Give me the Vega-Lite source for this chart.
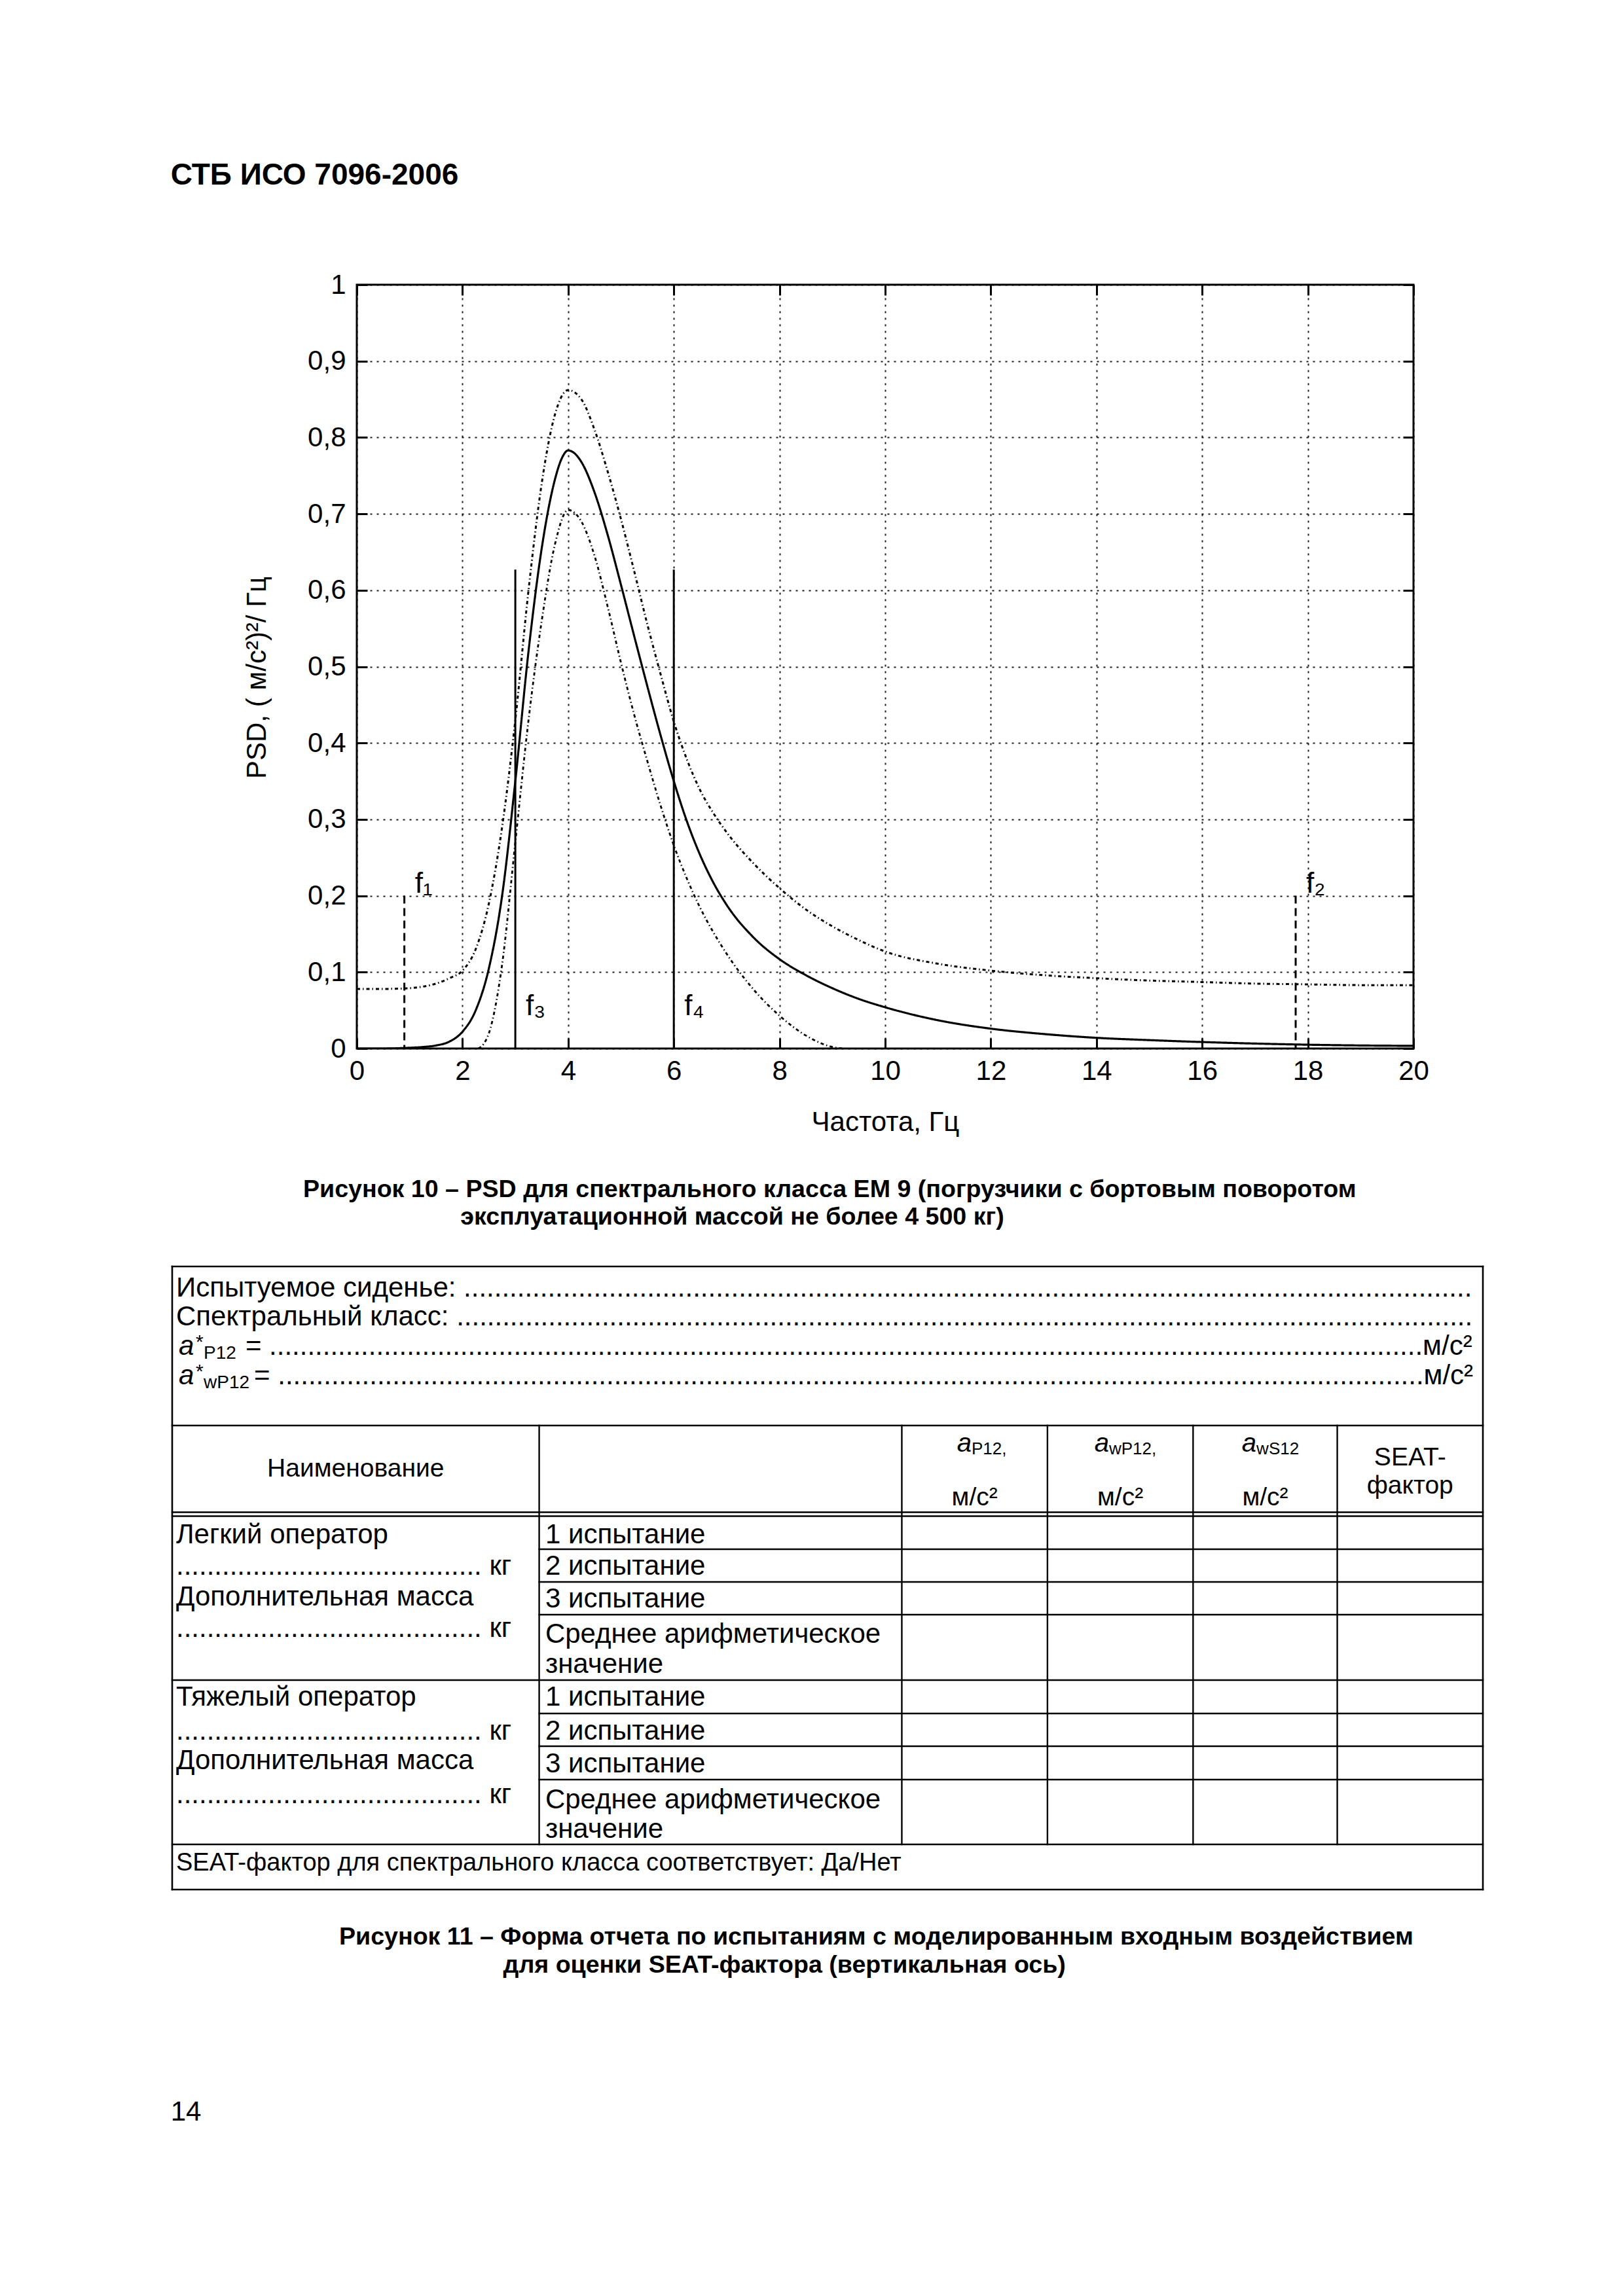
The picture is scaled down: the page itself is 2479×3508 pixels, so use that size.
{
  "$schema": "https://vega.github.io/schema/vega-lite/v6.json",
  "background": "white",
  "padding": {"left": 260, "top": 244, "right": 150, "bottom": 200},
  "title": {"text": "СТБ ИСО 7096-2006", "anchor": "start", "fontSize": 46, "fontWeight": "bold", "color": "black", "offset": 121},
  "datasets": {
    "psd": [
      {"curve": "nominal", "freq": 0, "psd": 0},
      {"curve": "nominal", "freq": 0.5, "psd": 0},
      {"curve": "nominal", "freq": 1, "psd": 0.001},
      {"curve": "nominal", "freq": 1.25, "psd": 0.002},
      {"curve": "nominal", "freq": 1.5, "psd": 0.004},
      {"curve": "nominal", "freq": 1.75, "psd": 0.009},
      {"curve": "nominal", "freq": 2, "psd": 0.022},
      {"curve": "nominal", "freq": 2.25, "psd": 0.05},
      {"curve": "nominal", "freq": 2.5, "psd": 0.105},
      {"curve": "nominal", "freq": 2.75, "psd": 0.2},
      {"curve": "nominal", "freq": 3, "psd": 0.35},
      {"curve": "nominal", "freq": 3.25, "psd": 0.52},
      {"curve": "nominal", "freq": 3.5, "psd": 0.655},
      {"curve": "nominal", "freq": 3.75, "psd": 0.745},
      {"curve": "nominal", "freq": 3.875, "psd": 0.772},
      {"curve": "nominal", "freq": 4, "psd": 0.783},
      {"curve": "nominal", "freq": 4.125, "psd": 0.779},
      {"curve": "nominal", "freq": 4.25, "psd": 0.768},
      {"curve": "nominal", "freq": 4.5, "psd": 0.728},
      {"curve": "nominal", "freq": 4.75, "psd": 0.672},
      {"curve": "nominal", "freq": 5, "psd": 0.607},
      {"curve": "nominal", "freq": 5.25, "psd": 0.54},
      {"curve": "nominal", "freq": 5.5, "psd": 0.474},
      {"curve": "nominal", "freq": 5.75, "psd": 0.41},
      {"curve": "nominal", "freq": 6, "psd": 0.35},
      {"curve": "nominal", "freq": 6.25, "psd": 0.297},
      {"curve": "nominal", "freq": 6.5, "psd": 0.253},
      {"curve": "nominal", "freq": 6.75, "psd": 0.217},
      {"curve": "nominal", "freq": 7, "psd": 0.188},
      {"curve": "nominal", "freq": 7.5, "psd": 0.146},
      {"curve": "nominal", "freq": 8, "psd": 0.117},
      {"curve": "nominal", "freq": 8.5, "psd": 0.096},
      {"curve": "nominal", "freq": 9, "psd": 0.079},
      {"curve": "nominal", "freq": 9.5, "psd": 0.065},
      {"curve": "nominal", "freq": 10, "psd": 0.054},
      {"curve": "nominal", "freq": 11, "psd": 0.037},
      {"curve": "nominal", "freq": 12, "psd": 0.026},
      {"curve": "nominal", "freq": 13, "psd": 0.019},
      {"curve": "nominal", "freq": 14, "psd": 0.014},
      {"curve": "nominal", "freq": 15, "psd": 0.011},
      {"curve": "nominal", "freq": 16, "psd": 0.0085},
      {"curve": "nominal", "freq": 17, "psd": 0.0065},
      {"curve": "nominal", "freq": 18, "psd": 0.005},
      {"curve": "nominal", "freq": 19, "psd": 0.004},
      {"curve": "nominal", "freq": 20, "psd": 0.0035},
      {"curve": "upper", "freq": 0, "psd": 0.078},
      {"curve": "upper", "freq": 0.5, "psd": 0.078},
      {"curve": "upper", "freq": 1, "psd": 0.079},
      {"curve": "upper", "freq": 1.25, "psd": 0.081},
      {"curve": "upper", "freq": 1.5, "psd": 0.085},
      {"curve": "upper", "freq": 1.75, "psd": 0.092},
      {"curve": "upper", "freq": 2, "psd": 0.102},
      {"curve": "upper", "freq": 2.25, "psd": 0.13},
      {"curve": "upper", "freq": 2.5, "psd": 0.19},
      {"curve": "upper", "freq": 2.75, "psd": 0.29},
      {"curve": "upper", "freq": 3, "psd": 0.43},
      {"curve": "upper", "freq": 3.25, "psd": 0.6},
      {"curve": "upper", "freq": 3.5, "psd": 0.74},
      {"curve": "upper", "freq": 3.75, "psd": 0.83},
      {"curve": "upper", "freq": 4, "psd": 0.862},
      {"curve": "upper", "freq": 4.25, "psd": 0.85},
      {"curve": "upper", "freq": 4.5, "psd": 0.81},
      {"curve": "upper", "freq": 4.75, "psd": 0.755},
      {"curve": "upper", "freq": 5, "psd": 0.693},
      {"curve": "upper", "freq": 5.25, "psd": 0.625},
      {"curve": "upper", "freq": 5.5, "psd": 0.555},
      {"curve": "upper", "freq": 5.75, "psd": 0.49},
      {"curve": "upper", "freq": 6, "psd": 0.428},
      {"curve": "upper", "freq": 6.25, "psd": 0.378},
      {"curve": "upper", "freq": 6.5, "psd": 0.338},
      {"curve": "upper", "freq": 6.75, "psd": 0.308},
      {"curve": "upper", "freq": 7, "psd": 0.283},
      {"curve": "upper", "freq": 7.5, "psd": 0.243},
      {"curve": "upper", "freq": 8, "psd": 0.21},
      {"curve": "upper", "freq": 8.5, "psd": 0.182},
      {"curve": "upper", "freq": 9, "psd": 0.16},
      {"curve": "upper", "freq": 9.5, "psd": 0.142},
      {"curve": "upper", "freq": 10, "psd": 0.127},
      {"curve": "upper", "freq": 11, "psd": 0.111},
      {"curve": "upper", "freq": 12, "psd": 0.102},
      {"curve": "upper", "freq": 13, "psd": 0.096},
      {"curve": "upper", "freq": 14, "psd": 0.092},
      {"curve": "upper", "freq": 15, "psd": 0.089},
      {"curve": "upper", "freq": 16, "psd": 0.087},
      {"curve": "upper", "freq": 17, "psd": 0.085},
      {"curve": "upper", "freq": 18, "psd": 0.084},
      {"curve": "upper", "freq": 19, "psd": 0.083},
      {"curve": "upper", "freq": 20, "psd": 0.083},
      {"curve": "lower", "freq": 2.3, "psd": 0},
      {"curve": "lower", "freq": 2.4, "psd": 0.006},
      {"curve": "lower", "freq": 2.5, "psd": 0.02},
      {"curve": "lower", "freq": 2.75, "psd": 0.11},
      {"curve": "lower", "freq": 3, "psd": 0.27},
      {"curve": "lower", "freq": 3.25, "psd": 0.43},
      {"curve": "lower", "freq": 3.5, "psd": 0.56},
      {"curve": "lower", "freq": 3.75, "psd": 0.66},
      {"curve": "lower", "freq": 4, "psd": 0.705},
      {"curve": "lower", "freq": 4.25, "psd": 0.69},
      {"curve": "lower", "freq": 4.5, "psd": 0.645},
      {"curve": "lower", "freq": 4.75, "psd": 0.578},
      {"curve": "lower", "freq": 5, "psd": 0.505},
      {"curve": "lower", "freq": 5.25, "psd": 0.437},
      {"curve": "lower", "freq": 5.5, "psd": 0.376},
      {"curve": "lower", "freq": 5.75, "psd": 0.318},
      {"curve": "lower", "freq": 6, "psd": 0.266},
      {"curve": "lower", "freq": 6.25, "psd": 0.222},
      {"curve": "lower", "freq": 6.5, "psd": 0.184},
      {"curve": "lower", "freq": 6.75, "psd": 0.152},
      {"curve": "lower", "freq": 7, "psd": 0.124},
      {"curve": "lower", "freq": 7.5, "psd": 0.078},
      {"curve": "lower", "freq": 8, "psd": 0.043},
      {"curve": "lower", "freq": 8.5, "psd": 0.017},
      {"curve": "lower", "freq": 9, "psd": 0.002},
      {"curve": "lower", "freq": 9.2, "psd": 0}
    ],
    "markers": [
      {"name": "f1", "freq": 0.9, "top": 0.2, "kind": "limit"},
      {"name": "f2", "freq": 17.77, "top": 0.2, "kind": "limit"},
      {"name": "f3", "freq": 3.0, "top": 0.627, "kind": "cutoff"},
      {"name": "f4", "freq": 6.0, "top": 0.627, "kind": "cutoff"}
    ],
    "markerLabels": [
      {"label": "f₁", "freq": 0.9, "psd": 0.215},
      {"label": "f₂", "freq": 17.77, "psd": 0.215},
      {"label": "f₃", "freq": 3.0, "psd": 0.055},
      {"label": "f₄", "freq": 6.0, "psd": 0.055}
    ],
    "tableRules": [
      {"x": 0, "x2": 9, "y": 0, "y2": 0, "weight": "outer"},
      {"x": 0, "x2": 9, "y": 4.86, "y2": 4.86, "weight": "outer"},
      {"x": 0, "x2": 9, "y": 7.51, "y2": 7.51, "weight": "inner"},
      {"x": 0, "x2": 9, "y": 7.63, "y2": 7.63, "weight": "inner"},
      {"x": 2.52, "x2": 9, "y": 8.64, "y2": 8.64, "weight": "inner"},
      {"x": 2.52, "x2": 9, "y": 9.64, "y2": 9.64, "weight": "inner"},
      {"x": 2.52, "x2": 9, "y": 10.64, "y2": 10.64, "weight": "inner"},
      {"x": 0, "x2": 9, "y": 12.64, "y2": 12.64, "weight": "inner"},
      {"x": 2.52, "x2": 9, "y": 13.66, "y2": 13.66, "weight": "inner"},
      {"x": 2.52, "x2": 9, "y": 14.66, "y2": 14.66, "weight": "inner"},
      {"x": 2.52, "x2": 9, "y": 15.68, "y2": 15.68, "weight": "inner"},
      {"x": 0, "x2": 9, "y": 17.66, "y2": 17.66, "weight": "inner"},
      {"x": 0, "x2": 9, "y": 19.04, "y2": 19.04, "weight": "outer"},
      {"x": 0, "x2": 0, "y": 0, "y2": 19.04, "weight": "outer"},
      {"x": 9, "x2": 9, "y": 0, "y2": 19.04, "weight": "outer"},
      {"x": 2.52, "x2": 2.52, "y": 4.86, "y2": 17.66, "weight": "inner"},
      {"x": 5.01, "x2": 5.01, "y": 4.86, "y2": 17.66, "weight": "inner"},
      {"x": 6.01, "x2": 6.01, "y": 4.86, "y2": 17.66, "weight": "inner"},
      {"x": 7.01, "x2": 7.01, "y": 4.86, "y2": 17.66, "weight": "inner"},
      {"x": 8.0, "x2": 8.0, "y": 4.86, "y2": 17.66, "weight": "inner"}
    ],
    "tableText": [
      {"role": "form", "x": 0.027, "y": 0.66, "text": "Испытуемое сиденье: ...................................................................................................................................."},
      {"role": "form", "x": 0.027, "y": 1.54, "text": "Спектральный класс: ....................................................................................................................................."},
      {"role": "formSym", "x": 0.045, "y": 2.44, "text": "a"},
      {"role": "formSup", "x": 0.162, "y": 2.44, "text": "*"},
      {"role": "formSub", "x": 0.216, "y": 2.44, "text": "P12"},
      {"role": "form", "x": 0.503, "y": 2.44, "text": "= .......................................................................................................................................................м/с²"},
      {"role": "formSym", "x": 0.045, "y": 3.34, "text": "a"},
      {"role": "formSup", "x": 0.162, "y": 3.34, "text": "*"},
      {"role": "formSub", "x": 0.216, "y": 3.34, "text": "wP12"},
      {"role": "form", "x": 0.562, "y": 3.34, "text": "= ......................................................................................................................................................м/с²"},
      {"role": "head", "x": 1.26, "y": 6.18, "text": "Наименование"},
      {"role": "headSym", "x": 5.489, "y": 5.42, "text": "a"},
      {"role": "headSub", "x": 5.489, "y": 5.42, "text": "P12,"},
      {"role": "headSym", "x": 6.433, "y": 5.42, "text": "a"},
      {"role": "headSub", "x": 6.433, "y": 5.42, "text": "wP12,"},
      {"role": "headSym", "x": 7.445, "y": 5.42, "text": "a"},
      {"role": "headSub", "x": 7.445, "y": 5.42, "text": "wS12"},
      {"role": "head", "x": 5.51, "y": 7.06, "text": "м/с²"},
      {"role": "head", "x": 6.51, "y": 7.06, "text": "м/с²"},
      {"role": "head", "x": 7.505, "y": 7.06, "text": "м/с²"},
      {"role": "head", "x": 8.5, "y": 5.84, "text": "SEAT-"},
      {"role": "head", "x": 8.5, "y": 6.7, "text": "фактор"},
      {"role": "body", "x": 0.027, "y": 8.2, "text": "Легкий оператор"},
      {"role": "body", "x": 0.027, "y": 9.16, "text": "........................................ кг"},
      {"role": "body", "x": 0.027, "y": 10.1, "text": "Дополнительная масса"},
      {"role": "body", "x": 0.027, "y": 11.06, "text": "........................................ кг"},
      {"role": "body", "x": 2.562, "y": 8.2, "text": "1 испытание"},
      {"role": "body", "x": 2.562, "y": 9.16, "text": "2 испытание"},
      {"role": "body", "x": 2.562, "y": 10.16, "text": "3 испытание"},
      {"role": "body", "x": 2.562, "y": 11.24, "text": "Среднее арифметическое"},
      {"role": "body", "x": 2.562, "y": 12.16, "text": "значение"},
      {"role": "body", "x": 0.027, "y": 13.16, "text": "Тяжелый оператор"},
      {"role": "body", "x": 0.027, "y": 14.2, "text": "........................................ кг"},
      {"role": "body", "x": 0.027, "y": 15.1, "text": "Дополнительная масса"},
      {"role": "body", "x": 0.027, "y": 16.14, "text": "........................................ кг"},
      {"role": "body", "x": 2.562, "y": 13.16, "text": "1 испытание"},
      {"role": "body", "x": 2.562, "y": 14.2, "text": "2 испытание"},
      {"role": "body", "x": 2.562, "y": 15.2, "text": "3 испытание"},
      {"role": "body", "x": 2.562, "y": 16.3, "text": "Среднее арифметическое"},
      {"role": "body", "x": 2.562, "y": 17.2, "text": "значение"},
      {"role": "foot", "x": 0.027, "y": 18.24, "text": "SEAT-фактор для спектрального класса соответствует: Да/Нет"}
    ]
  },
  "vconcat": [
    {
      "vconcat": [
        {
          "hconcat": [
            {
              "width": 107, "height": 10,
              "view": {"stroke": null},
              "data": {"values": [{"blank": ""}]},
              "mark": {"type": "text", "opacity": 0},
              "encoding": {"text": {"field": "blank"}}
            },
            {
              "width": 1614, "height": 1167,
              "view": {"stroke": "black", "strokeWidth": 3},
              "title": {
                "text": ["Рисунок 10 – PSD для спектрального класса ЕМ 9 (погрузчики с бортовым поворотом", "\u200b\u00a0\u00a0\u00a0\u00a0\u00a0\u00a0\u00a0\u00a0\u00a0\u00a0\u00a0\u00a0\u00a0\u00a0\u00a0\u00a0\u00a0\u00a0\u00a0\u00a0\u00a0\u00a0\u00a0эксплуатационной массой не более 4 500 кг)"],
                "orient": "bottom", "anchor": "start", "frame": "group", "align": "left", "dx": -82,
                "fontSize": 37.6, "fontWeight": "bold", "lineHeight": 42, "offset": 64, "color": "black"
              },
              "layer": [
                {
                  "data": {"name": "psd"},
                  "mark": {"type": "line", "color": "black", "interpolate": "monotone", "clip": true},
                  "encoding": {
                    "x": {
                      "field": "freq", "type": "quantitative",
                      "scale": {"domain": [0, 20], "nice": false, "zero": false},
                      "axis": {
                        "values": [0, 2, 4, 6, 8, 10, 12, 14, 16, 18, 20], "format": "d",
                        "title": "Частота, Гц",
                        "grid": true, "gridDash": [3, 7], "gridColor": "black", "gridWidth": 2, "gridOpacity": 0.9,
                        "domain": false, "ticks": true, "tickSize": -16, "tickWidth": 3, "tickColor": "black",
                        "labelFontSize": 42, "labelColor": "black", "labelPadding": 30, "labelFlush": false,
                        "titleFontSize": 42, "titleFontWeight": "normal", "titleColor": "black", "titlePadding": 37
                      }
                    },
                    "y": {
                      "field": "psd", "type": "quantitative",
                      "scale": {"domain": [0, 1], "nice": false, "zero": false},
                      "axis": {
                        "values": [0, 0.1, 0.2, 0.3, 0.4, 0.5, 0.6, 0.7, 0.8, 0.9, 1],
                        "labelExpr": "datum.value == 0 ? '0' : datum.value == 1 ? '1' : replace(format(datum.value, '.1f'), '.', ',')",
                        "title": "PSD, ( м/с²)²/ Гц",
                        "titleY": 600,
                        "grid": true, "gridDash": [3, 7], "gridColor": "black", "gridWidth": 2, "gridOpacity": 0.9,
                        "domain": false, "ticks": true, "tickSize": -16, "tickWidth": 3, "tickColor": "black",
                        "labelFontSize": 42, "labelColor": "black", "labelPadding": 33, "labelFlush": false,
                        "titleFontSize": 42, "titleFontWeight": "normal", "titleColor": "black", "titlePadding": 55
                      }
                    },
                    "strokeDash": {"field": "curve", "type": "nominal", "scale": {"domain": ["nominal", "upper", "lower"], "range": [[1, 0], [5, 4, 1.5, 4], [5, 4, 1.5, 4]]}, "legend": null},
                    "strokeWidth": {"field": "curve", "type": "nominal", "scale": {"domain": ["nominal", "upper", "lower"], "range": [3.2, 2.4, 2.4]}, "legend": null}
                  }
                },
                {
                  "data": {"name": "markers"},
                  "transform": [{"filter": "datum.kind == 'limit'"}],
                  "mark": {"type": "rule", "color": "black", "strokeWidth": 3, "strokeDash": [12, 7]},
                  "encoding": {
                    "x": {"field": "freq", "type": "quantitative", "axis": null},
                    "y": {"field": "top", "type": "quantitative", "axis": null},
                    "y2": {"datum": 0}
                  }
                },
                {
                  "data": {"name": "markers"},
                  "transform": [{"filter": "datum.kind == 'cutoff'"}],
                  "mark": {"type": "rule", "color": "black", "strokeWidth": 3},
                  "encoding": {
                    "x": {"field": "freq", "type": "quantitative", "axis": null},
                    "y": {"field": "top", "type": "quantitative", "axis": null},
                    "y2": {"datum": 0}
                  }
                },
                {
                  "data": {"name": "markerLabels"},
                  "mark": {"type": "text", "align": "left", "baseline": "middle", "dx": 16, "fontSize": 44, "color": "black"},
                  "encoding": {
                    "x": {"field": "freq", "type": "quantitative", "axis": {"orient": "top", "values": [0, 2, 4, 6, 8, 10, 12, 14, 16, 18, 20], "labels": false, "title": null, "grid": false, "domain": false, "tickSize": -16, "tickWidth": 3, "tickColor": "black"}},
                    "y": {"field": "psd", "type": "quantitative", "axis": {"orient": "right", "values": [0, 0.1, 0.2, 0.3, 0.4, 0.5, 0.6, 0.7, 0.8, 0.9, 1], "labels": false, "title": null, "grid": false, "domain": false, "tickSize": -16, "tickWidth": 3, "tickColor": "black"}},
                    "text": {"field": "label"}
                  }
                }
              ],
              "resolve": {"axis": {"x": "independent", "y": "independent"}}
            }
          ],
          "spacing": 0
        },
        {
          "width": 2002, "height": 952,
          "view": {"stroke": null},
          "title": {
            "text": ["Рисунок 11 – Форма отчета по испытаниям с моделированным входным воздействием", "\u200b\u00a0\u00a0\u00a0\u00a0\u00a0\u00a0\u00a0\u00a0\u00a0\u00a0\u00a0\u00a0\u00a0\u00a0\u00a0\u00a0\u00a0\u00a0\u00a0\u00a0\u00a0\u00a0\u00a0\u00a0для оценки SEAT-фактора (вертикальная ось)"],
            "orient": "bottom", "anchor": "start", "frame": "group", "align": "left", "dx": 255,
            "fontSize": 37.6, "fontWeight": "bold", "lineHeight": 43, "offset": 52, "color": "black"
          },
          "encoding": {
            "x": {"field": "x", "type": "quantitative", "scale": {"domain": [0, 9], "nice": false, "zero": false}, "axis": null},
            "y": {"field": "y", "type": "quantitative", "scale": {"domain": [0, 19.04], "reverse": true, "nice": false, "zero": false}, "axis": null}
          },
          "layer": [
            {
              "data": {"name": "tableRules"},
              "mark": {"type": "rule", "color": "black", "strokeCap": "square"},
              "encoding": {
                "x2": {"field": "x2"},
                "y2": {"field": "y2"},
                "strokeWidth": {"field": "weight", "type": "nominal", "scale": {"domain": ["outer", "inner"], "range": [4, 3]}, "legend": null}
              }
            },
            {
              "data": {"name": "tableText"},
              "transform": [{"filter": "datum.role == 'form' || datum.role == 'body'"}],
              "mark": {"type": "text", "align": "left", "baseline": "middle", "fontSize": 42, "color": "black"},
              "encoding": {"text": {"field": "text"}}
            },
            {
              "data": {"name": "tableText"},
              "transform": [{"filter": "datum.role == 'formSym'"}],
              "mark": {"type": "text", "align": "left", "baseline": "middle", "fontSize": 42, "fontStyle": "italic", "color": "black"},
              "encoding": {"text": {"field": "text"}}
            },
            {
              "data": {"name": "tableText"},
              "transform": [{"filter": "datum.role == 'formSup'"}],
              "mark": {"type": "text", "align": "left", "baseline": "middle", "fontSize": 30, "dy": -6, "color": "black"},
              "encoding": {"text": {"field": "text"}}
            },
            {
              "data": {"name": "tableText"},
              "transform": [{"filter": "datum.role == 'formSub'"}],
              "mark": {"type": "text", "align": "left", "baseline": "middle", "fontSize": 28, "dy": 11, "color": "black"},
              "encoding": {"text": {"field": "text"}}
            },
            {
              "data": {"name": "tableText"},
              "transform": [{"filter": "datum.role == 'head'"}],
              "mark": {"type": "text", "align": "center", "baseline": "middle", "fontSize": 39, "color": "black"},
              "encoding": {"text": {"field": "text"}}
            },
            {
              "data": {"name": "tableText"},
              "transform": [{"filter": "datum.role == 'headSym'"}],
              "mark": {"type": "text", "align": "right", "baseline": "middle", "fontSize": 40, "fontStyle": "italic", "color": "black"},
              "encoding": {"text": {"field": "text"}}
            },
            {
              "data": {"name": "tableText"},
              "transform": [{"filter": "datum.role == 'headSub'"}],
              "mark": {"type": "text", "align": "left", "baseline": "middle", "fontSize": 26, "dy": 8, "color": "black"},
              "encoding": {"text": {"field": "text"}}
            },
            {
              "data": {"name": "tableText"},
              "transform": [{"filter": "datum.role == 'foot'"}],
              "mark": {"type": "text", "align": "left", "baseline": "middle", "fontSize": 38, "color": "black"},
              "encoding": {"text": {"field": "text"}}
            }
          ]
        }
      ],
      "spacing": 52
    },
    {
      "width": 42, "height": 42,
      "view": {"stroke": null},
      "data": {"values": [{"page": "14"}]},
      "mark": {"type": "text", "fontSize": 42, "baseline": "middle", "align": "center", "color": "black"},
      "encoding": {"text": {"field": "page"}}
    }
  ],
  "spacing": 184,
  "config": {
    "font": "Liberation Sans",
    "view": {"stroke": null},
    "title": {"font": "Liberation Sans"},
    "axis": {"labelFont": "Liberation Sans", "titleFont": "Liberation Sans"},
    "text": {"font": "Liberation Sans"}
  }
}
